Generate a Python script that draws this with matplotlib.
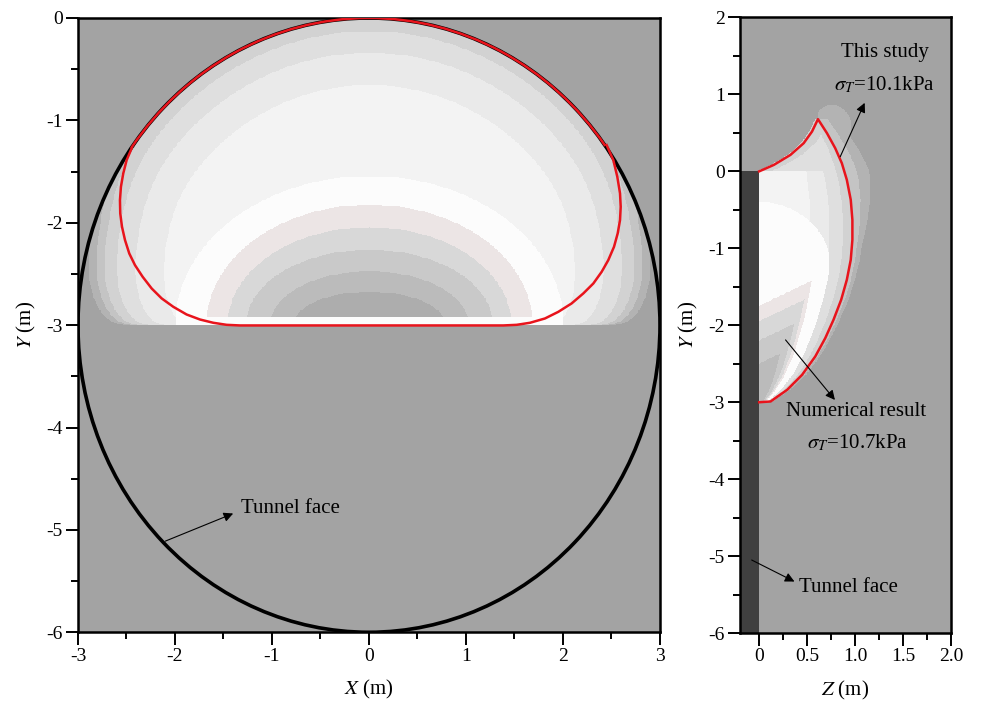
import numpy as np
import matplotlib
matplotlib.use("Agg")
import matplotlib.pyplot as plt
from matplotlib.colors import ListedColormap, BoundaryNorm
from matplotlib.patches import Arc, Circle
from matplotlib.ticker import MultipleLocator, FixedLocator

plt.rcParams["font.family"] = ["Liberation Serif", "DejaVu Serif"]
plt.rcParams["mathtext.fontset"] = "stix"
plt.rcParams["axes.unicode_minus"] = False

# ---------------- geometry ----------------
tunnel_center = (0.0, -3.0)
tunnel_radius = 3.0
face_z = [-0.2, 0.0]          # tunnel face seen from the side
face_y = [-6.0, 0.0]

# failure mechanism, front view: top follows the tunnel circle between these angles
mech_arc_deg = [35.7, 144.8]
mech_front_x = [2.450, 2.519, 2.560, 2.588, 2.595, 2.588, 2.564, 2.526, 2.467,
                2.399, 2.313, 2.210, 2.089, 1.952, 1.814, 1.660, 1.522, 1.385,
                -1.330, -1.467, -1.605, -1.742, -1.880, -2.017, -2.137, -2.240,
                -2.333, -2.412, -2.471, -2.515, -2.546, -2.564, -2.567, -2.557,
                -2.533, -2.498, -2.447]
mech_front_y = [-1.241, -1.388, -1.551, -1.713, -1.844, -1.974, -2.104, -2.235,
                -2.365, -2.479, -2.593, -2.690, -2.788, -2.870, -2.935, -2.977,
                -2.997, -3.003, -3.003, -2.997, -2.977, -2.945, -2.896, -2.821,
                -2.739, -2.642, -2.528, -2.414, -2.300, -2.169, -2.039, -1.909,
                -1.779, -1.649, -1.518, -1.388, -1.274]

# failure mechanism, side view (upper arc then outer arc down to the invert)
mech_top_z = [0.0, 0.153, 0.326, 0.464, 0.551, 0.613]
mech_top_y = [0.0, 0.084, 0.214, 0.366, 0.517, 0.678]
mech_out_z = [0.613, 0.707, 0.793, 0.862, 0.914, 0.955, 0.972, 0.972, 0.955,
              0.914, 0.855, 0.775, 0.689, 0.585, 0.448, 0.292, 0.119, 0.0]
mech_out_y = [0.678, 0.496, 0.301, 0.106, -0.110, -0.370, -0.630, -0.890,
              -1.149, -1.409, -1.669, -1.929, -2.167, -2.405, -2.643, -2.838,
              -2.990, -3.0]

# ---------------- numerical displacement bands ----------------
band_colors = ["#a3a3a3", "#b3b3b3", "#c4c4c4", "#d2d2d2", "#dfdfdf", "#eaeaea",
               "#f3f3f3", "#fcfcfc", "#ece5e5", "#d8d8d8", "#c9c9c9", "#bbbbbb",
               "#adadad"]

# front view: outer dome bands (normalised distance thresholds -> band)
dome_side_halfwidth = 2.8
dome_foot_halfwidth = 2.4
dome_corner_height = 0.7
dome_levels = [1.06, 1.03, 1.0, 0.955, 0.885, 0.78]
dome_bands = [1, 2, 3, 4, 5, 6]
# front view: inner bands, half ellipses sitting on the invert level
core_a = [2.0, 1.68, 1.46, 1.27, 1.02, 0.78]
core_b = [1.45, 1.17, 0.95, 0.73, 0.52, 0.32]
core_bands = [7, 8, 9, 10, 11, 12]
invert_strip = [1.9, 0.07]     # half width, height of light strip on the invert

# side view bands
side_levels = [1.0, 0.9, 0.75, 0.55]
side_bands = [3, 4, 5, 6]
halo_y = [-3.0, -1.0, 0.0, 0.7]          # halo width outside the mechanism
halo_w = [0.03, 0.10, 0.26, 0.20]
cusp_halo = [0.76, 0.58, 0.20, 0.28]     # centre z, centre y, half widths
side_white = [-1.3, 0.9, 0.78]           # centre height, half height, relative width
side_tilt = 0.6
side_lower_w = [-1.75, -1.95, -2.2, -2.5]
side_lower_s = [0.6, 0.55, 0.48, 0.36]
side_lower_bands = [8, 9, 10, 11]

cmap = ListedColormap(band_colors)
norm = BoundaryNorm(np.arange(-0.5, len(band_colors)), cmap.N)

# ---- front field ----
gx = np.linspace(-3, 3, 721)
gy = np.linspace(-6, 0, 721)
X, Y = np.meshgrid(gx, gy)
H = Y - tunnel_center[1]
R = np.hypot(X - tunnel_center[0], H) / tunnel_radius
hc = dome_corner_height
foot = dome_foot_halfwidth + (dome_side_halfwidth - dome_foot_halfwidth) * \
    np.sqrt(np.clip(1 - ((hc - np.clip(H, 0, hc)) / hc) ** 2, 0, 1))
S = np.abs(X) / foot
D = (R ** 16 + S ** 16) ** (1 / 16)
front = np.zeros_like(X)
for lev, b in zip(dome_levels, dome_bands):
    front[D < lev] = b
front[R > 1.0] = 0
for a, bb, b in zip(core_a, core_b, core_bands):
    E = np.hypot(X / a, H / bb)
    front[(E < 1) & (H >= 0)] = b
front[(np.abs(X) < invert_strip[0]) & (H >= 0) & (H < invert_strip[1])] = 7
front[H < 0] = 0

# ---- side field ----
sz = np.linspace(-0.2, 2.0, 441)
sy = np.linspace(-6, 2, 801)
Zs, Ys = np.meshgrid(sz, sy)
env_y = mech_out_y[::-1]
env_z = mech_out_z[::-1]
Zc = np.interp(Ys, env_y, env_z)
Sr = Zs / np.maximum(Zc, 1e-3)
hw = np.interp(Ys, halo_y, halo_w)
side = np.zeros_like(Zs)
side[Zs < Zc + hw] = 1
side[Zs < Zc + 0.5 * hw] = 2
for lev, b in zip(side_levels, side_bands):
    side[Sr < lev] = b
# above the crown the mechanism lies right of the upper arc
Zu = np.interp(Ys, mech_top_y, mech_top_z)
upper = (Ys > 0) & (Ys <= mech_top_y[-1])
side[upper & (Zs < Zu - 0.03)] = 0
side[upper & (side > 3) & (Zs < Zu + 0.12)] = 3
side[upper & (side > 4)] = 4
side[Ys > mech_top_y[-1]] = 0
cap = ((Zs - cusp_halo[0]) / cusp_halo[2]) ** 2 + \
      ((Ys - cusp_halo[1]) / cusp_halo[3]) ** 2 < 1
side[cap & (side == 0) & (Zs > Zu)] = 1
white = ((Ys - side_white[0]) / side_white[1]) ** 2 + (Sr / side_white[2]) ** 2 < 1
side[white | ((Ys < side_white[0]) & (Sr < side_white[2]))] = 7
W = Ys - side_tilt * Zs
for w, s, b in zip(side_lower_w, side_lower_s, side_lower_bands):
    side[(W < w) & (Sr < s)] = b
side[Ys < -3.0] = 0
side[Zs < 0] = 0

# ---------------- figure ----------------
fig = plt.figure(figsize=(9.83, 7.03), dpi=100)
ax1 = fig.add_axes([0.0793, 0.1006, 0.5921, 0.8738])
ax2 = fig.add_axes([0.7528, 0.0994, 0.2146, 0.8758])

ax1.imshow(front, cmap=cmap, norm=norm, origin="lower", extent=[-3, 3, -6, 0],
           aspect="auto", interpolation="nearest", zorder=0)
ax1.add_patch(Circle(tunnel_center, tunnel_radius, fill=False, color="black",
                     lw=2.6, zorder=3))
ax1.add_patch(Arc(tunnel_center, 2 * tunnel_radius, 2 * tunnel_radius,
                  theta1=mech_arc_deg[0], theta2=mech_arc_deg[1], color="#e8141c",
                  lw=1.8, zorder=4))
ax1.plot(mech_front_x, mech_front_y, color="#e8141c", lw=1.8, zorder=4)
ax1.set_xlim(-3, 3)
ax1.set_ylim(-6, 0)

ax2.imshow(side, cmap=cmap, norm=norm, origin="lower", extent=[-0.2, 2.0, -6, 2],
           aspect="auto", interpolation="nearest", zorder=0)
ax2.fill_betweenx(face_y, face_z[0], face_z[1], color="#404040", lw=0, zorder=2)
ax2.plot(mech_top_z + mech_out_z[1:], mech_top_y + mech_out_y[1:],
         color="#e8141c", lw=1.8, zorder=4)
ax2.set_xlim(-0.2, 2.0)
ax2.set_ylim(-6, 2)

# axes styling
for ax in (ax1, ax2):
    for sp in ax.spines.values():
        sp.set_linewidth(1.8)
    ax.tick_params(which="both", direction="out", top=False, right=False,
                   width=1.4, labelsize=14, pad=2)
    ax.tick_params(which="major", length=9)
    ax.tick_params(which="minor", length=5)

ax1.set_xticks([-3, -2, -1, 0, 1, 2, 3])
ax1.set_xticklabels(["-3", "-2", "-1", "0", "1", "2", "3"])
ax1.xaxis.set_minor_locator(MultipleLocator(0.5))
ax1.set_yticks([0, -1, -2, -3, -4, -5, -6])
ax1.set_yticklabels(["0", "-1", "-2", "-3", "-4", "-5", "-6"])
ax1.yaxis.set_minor_locator(MultipleLocator(0.5))

ax2.set_xticks([0, 0.5, 1.0, 1.5, 2.0])
ax2.set_xticklabels(["0", "0.5", "1.0", "1.5", "2.0"])
ax2.xaxis.set_minor_locator(FixedLocator([0.25, 0.75, 1.25, 1.75]))
ax2.set_yticks([2, 1, 0, -1, -2, -3, -4, -5, -6])
ax2.set_yticklabels(["2", "1", "0", "-1", "-2", "-3", "-4", "-5", "-6"])
ax2.yaxis.set_minor_locator(MultipleLocator(0.5))

ax1.set_xlabel(r"$X$ (m)", fontsize=15, labelpad=10)
ax1.set_ylabel(r"$Y$ (m)", fontsize=15, labelpad=6)
ax2.set_xlabel(r"$Z$ (m)", fontsize=15, labelpad=10)
ax2.set_ylabel(r"$Y$ (m)", fontsize=15, labelpad=6)

arrow = dict(arrowstyle="-|>", color="black", lw=0.8, mutation_scale=14,
             shrinkA=0, shrinkB=0)
ax1.annotate("", xy=(-1.40, -4.84), xytext=(-2.10, -5.11), arrowprops=arrow, zorder=5)
ax1.text(-1.32, -4.79, "Tunnel face", fontsize=15, ha="left", va="center")

ax2.annotate("", xy=(1.10, 0.89), xytext=(0.845, 0.19), arrowprops=arrow, zorder=5)
ax2.text(1.31, 1.54, "This study", fontsize=15, ha="center", va="center")
ax2.text(1.31, 1.12, r"$\sigma_T$=10.1kPa", fontsize=15, ha="center", va="center")

ax2.annotate("", xy=(0.79, -2.97), xytext=(0.275, -2.19), arrowprops=arrow, zorder=5)
ax2.text(1.01, -3.12, "Numerical result", fontsize=15, ha="center", va="center")
ax2.text(1.02, -3.53, r"$\sigma_T$=10.7kPa", fontsize=15, ha="center", va="center")

ax2.annotate("", xy=(0.368, -5.33), xytext=(-0.078, -5.05), arrowprops=arrow, zorder=5)
ax2.text(0.417, -5.41, "Tunnel face", fontsize=15, ha="left", va="center")

fig.savefig("out.png", dpi=100)
